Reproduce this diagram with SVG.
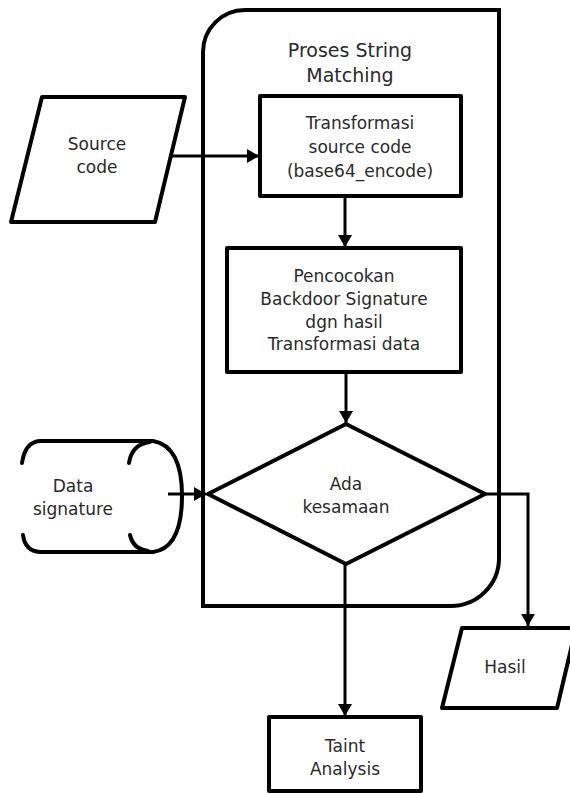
<svg xmlns="http://www.w3.org/2000/svg" width="570" height="794" viewBox="0 0 570 794">
<defs>
<style>
.s{fill:#fff;stroke:#000;stroke-width:4;stroke-linejoin:round}
.o{fill:none;stroke:#000;stroke-width:4;stroke-linecap:round}
.c{fill:none;stroke:#000;stroke-width:3}
text{font-family:"DejaVu Sans",sans-serif;font-size:17px;fill:#2a2a2a;text-anchor:middle}
.t{font-size:19px}
</style>
<marker id="ah" viewBox="0 0 12 14" refX="12" refY="7" markerWidth="12" markerHeight="14" markerUnits="userSpaceOnUse" orient="auto">
<path d="M0,0 L12,7 L0,14 Z" fill="#000"/>
</marker>
</defs>
<rect width="570" height="794" fill="#fff"/>
<g id="container">
<path class="o" d="M203,606 L203,52 A42,42 0 0 1 245,10 L499,10 L499,558 A48,48 0 0 1 451,606 Z"/>
<text class="t" x="350" y="57">Proses String</text>
<text class="t" x="350" y="82">Matching</text>
</g>
<g id="source-code">
<path class="s" d="M42,97 L185,97 L155,222 L11,222 Z"/>
<text x="97" y="150">Source</text>
<text x="97" y="173">code</text>
</g>
<g id="transformasi">
<rect class="s" x="260" y="96" width="201" height="100"/>
<text x="360" y="129">Transformasi</text>
<text x="360" y="153">source code</text>
<text x="360" y="177">(base64_encode)</text>
</g>
<g id="pencocokan">
<rect class="s" x="227" y="248" width="234" height="124"/>
<text x="344" y="282">Pencocokan</text>
<text x="344" y="305">Backdoor Signature</text>
<text x="344" y="328">dgn hasil</text>
<text x="344" y="350">Transformasi data</text>
</g>
<g id="data-signature">
<path class="o" d="M22,463 Q25,442 40,441 L153,441 Q182,446 182,496 Q182,548 153,552 L40,552 Q25,551 23,535"/>
<path class="o" d="M129,463 Q132,444 150,442"/>
<path class="o" d="M130,535 Q133,549 148,551"/>
<text x="73" y="492">Data</text>
<text x="73" y="515">signature</text>
</g>
<g id="ada-kesamaan">
<path class="s" d="M346,424 L485,494 L346,564 L208,494 Z"/>
<text x="346" y="490">Ada</text>
<text x="346" y="513">kesamaan</text>
</g>
<g id="hasil">
<path class="s" d="M462,628 L576,628 L557,708 L442,708 Z"/>
<text x="505" y="673">Hasil</text>
</g>
<g id="taint-analysis">
<rect class="s" x="269" y="717" width="152" height="74"/>
<text x="345" y="752">Taint</text>
<text x="345" y="775">Analysis</text>
</g>
<g id="connectors">
<path class="c" d="M170,156 L259,156" marker-end="url(#ah)"/>
<path class="c" d="M345,196 L345,247" marker-end="url(#ah)"/>
<path class="c" d="M346,372 L346,423" marker-end="url(#ah)"/>
<path class="c" d="M168,494 L206,494" marker-end="url(#ah)"/>
<path class="c" d="M485,494 L528,494 L528,626" marker-end="url(#ah)"/>
<path class="c" d="M345,564 L345,716" marker-end="url(#ah)"/>
</g>
</svg>
